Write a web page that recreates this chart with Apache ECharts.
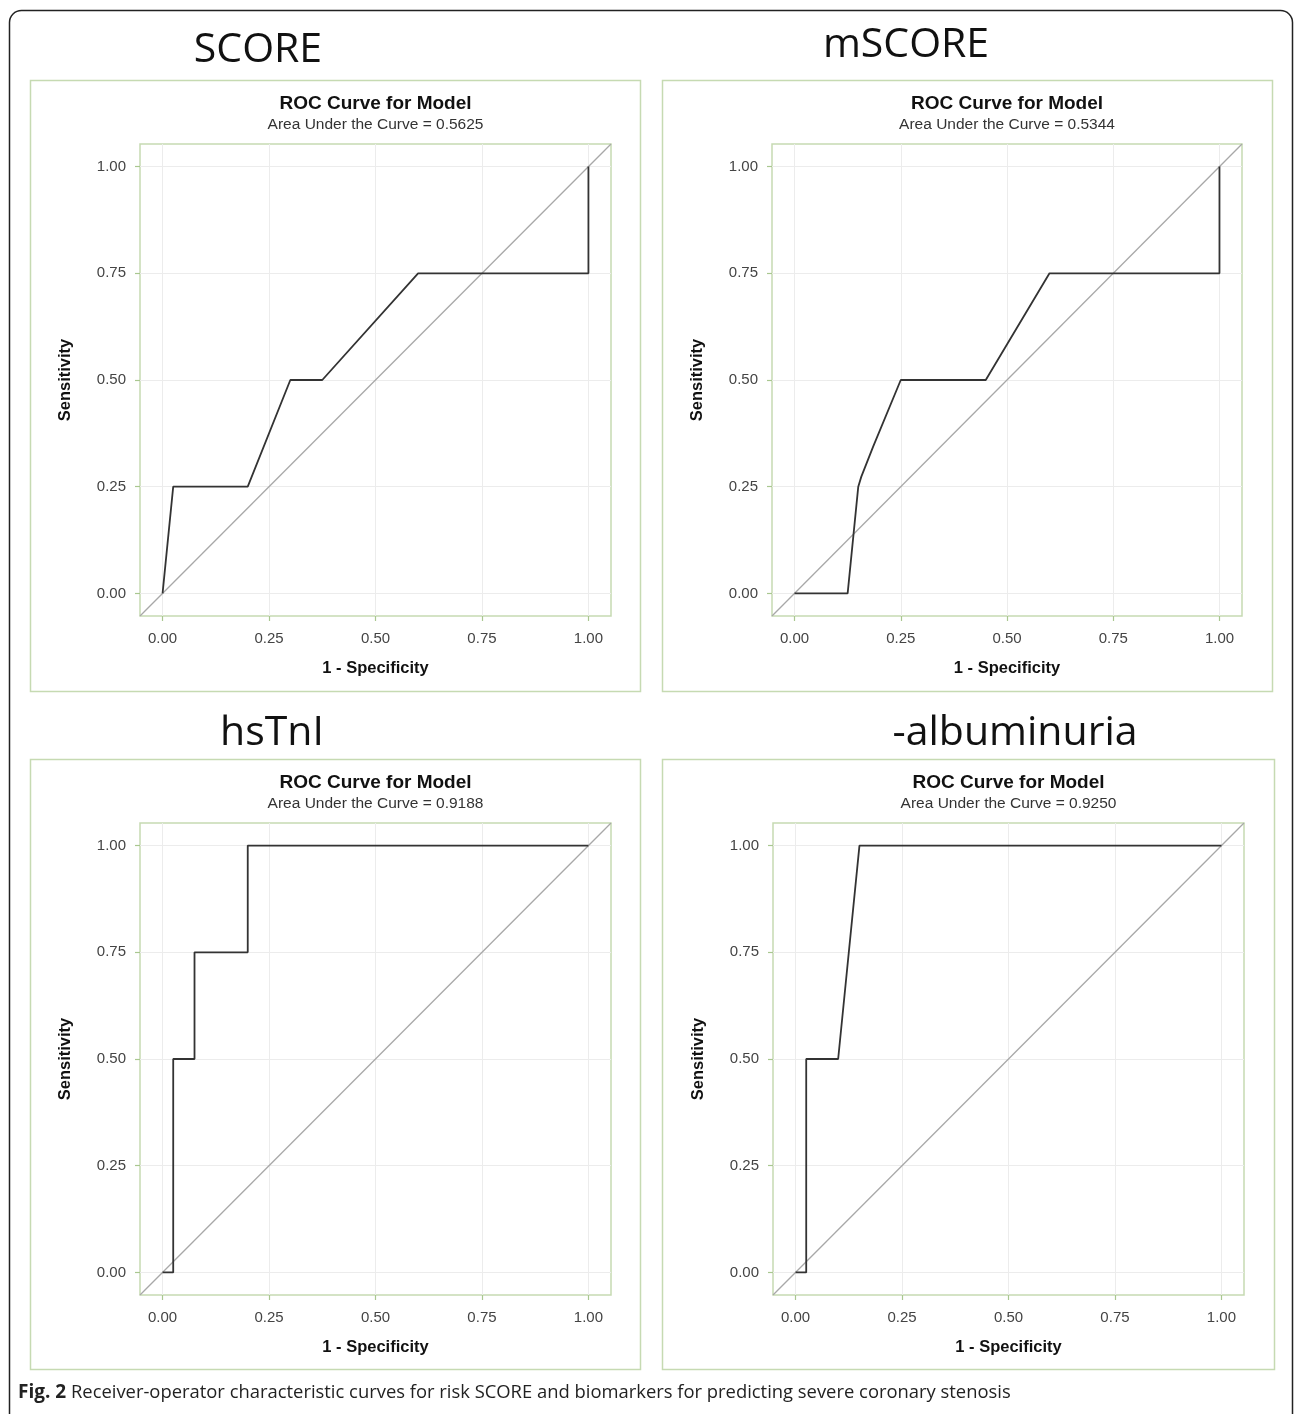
<!DOCTYPE html>
<html><head><meta charset="utf-8">
<script src="https://cdn.jsdelivr.net/npm/echarts@6/dist/echarts.min.js"></script>
<style>html,body{margin:0;padding:0;background:#fff}#c{width:1295px;height:1414px}</style>
</head><body><div id="c"></div>
<script>
// ---- data ----
const panelNames = ['SCORE', 'mSCORE', 'hsTnI', '-albuminuria'];
const aucValues = ['0.5625', '0.5344', '0.9188', '0.9250'];
const tickValues = [0, 0.25, 0.5, 0.75, 1];
const scoreFpr = [0, 0.025, 0.2, 0.3, 0.375, 0.6, 1, 1];
const scoreTpr = [0, 0.25, 0.25, 0.5, 0.5, 0.75, 0.75, 1];
const mscoreFpr = [0, 0.125, 0.15, 0.157, 0.185, 0.25, 0.45, 0.6, 1, 1];
const mscoreTpr = [0, 0, 0.25, 0.273, 0.344, 0.5, 0.5, 0.75, 0.75, 1];
const hstniFpr = [0, 0.025, 0.025, 0.075, 0.075, 0.2, 0.2, 1];
const hstniTpr = [0, 0, 0.5, 0.5, 0.75, 0.75, 1, 1];
const albFpr = [0, 0.025, 0.025, 0.1, 0.15, 1];
const albTpr = [0, 0, 0.5, 0.5, 1, 1];
const diagonal = [-0.053, 1.053];
const axisRange = [-0.053, 1.053];
const captionBold = 'Fig. 2';
const captionText = ' Receiver-operator characteristic curves for risk SCORE and biomarkers for predicting severe coronary stenosis';

const curves = [[scoreFpr, scoreTpr], [mscoreFpr, mscoreTpr], [hstniFpr, hstniTpr], [albFpr, albTpr]];

// ---- layout ----
const panels = [
  {box: [30, 80, 610, 611], plot: [140, 144, 471, 472], big: [258, 50]},
  {box: [662, 80, 610, 611], plot: [772, 144, 470, 472], big: [906, 45]},
  {box: [30, 759, 610, 610], plot: [140, 823, 471, 472], big: [272, 733]},
  {box: [662, 759, 612, 610], plot: [773, 823, 471, 472], big: [1015, 733]}
];
const green = '#c6dab2';
const sans = 'Liberation Sans, Arial, sans-serif';

const grid = [], xAxis = [], yAxis = [], series = [], graphic = [];

graphic.push({type: 'rect', shape: {x: 9.5, y: 10.5, width: 1283, height: 1420, r: 12},
  style: {fill: 'none', stroke: '#222', lineWidth: 1.5}, silent: true});

panels.forEach((p, i) => {
  const [l, t, w, h] = p.plot;
  graphic.push({type: 'rect', shape: {x: p.box[0] + 0.5, y: p.box[1] + 0.5, width: p.box[2], height: p.box[3]},
    style: {fill: 'none', stroke: green, lineWidth: 1.5}, silent: true});
  graphic.push({type: 'text', x: p.big[0], y: p.big[1],
    style: {text: panelNames[i], font: '41px "Open Sans", sans-serif', fill: '#111', align: 'center', verticalAlign: 'middle'}});
  const cx = l + w / 2;
  graphic.push({type: 'text', x: cx, y: t - 40,
    style: {text: 'ROC Curve for Model', font: 'bold 19px ' + sans, fill: '#111', align: 'center', verticalAlign: 'middle'}});
  graphic.push({type: 'text', x: cx, y: t - 19,
    style: {text: 'Area Under the Curve = ' + aucValues[i], font: '15.5px ' + sans, fill: '#333', align: 'center', verticalAlign: 'middle'}});

  grid.push({left: l, top: t, width: w, height: h, show: true, borderColor: green, borderWidth: 1.5, backgroundColor: 'transparent'});
  const axCommon = {
    type: 'value', gridIndex: i, min: axisRange[0], max: axisRange[1],
    axisLine: {show: false, onZero: false},
    axisTick: {show: true, inside: false, customValues: tickValues, length: 5, lineStyle: {color: '#a9c790', width: 1.2}},
    axisLabel: {customValues: tickValues, formatter: v => v.toFixed(2), color: '#444', fontSize: 15, fontFamily: sans},
    splitLine: {show: true, lineStyle: {color: '#ececec', width: 1}},
    nameLocation: 'middle',
    nameTextStyle: {fontWeight: 'bold', fontSize: 16.5, color: '#111', fontFamily: sans}
  };
  xAxis.push(Object.assign({}, axCommon, {name: '1 - Specificity', nameGap: 44,
    axisLabel: Object.assign({}, axCommon.axisLabel, {margin: 15})}));
  yAxis.push(Object.assign({}, axCommon, {name: 'Sensitivity', nameGap: 66, nameRotate: 90,
    axisLabel: Object.assign({}, axCommon.axisLabel, {margin: 14})}));
  series.push({type: 'line', xAxisIndex: i, yAxisIndex: i, showSymbol: false, silent: true,
    data: diagonal.map(v => [v, v]), lineStyle: {color: '#a8a8a8', width: 1.3}, z: 2});
  const [fx, fy] = curves[i];
  series.push({type: 'line', xAxisIndex: i, yAxisIndex: i, showSymbol: false, silent: true,
    data: fx.map((x, k) => [x, fy[k]]), lineStyle: {color: '#333', width: 1.8}, z: 3});
});

graphic.push({type: 'text', x: 18, y: 1393,
  style: {rich: {b: {font: 'bold 19px "Open Sans", sans-serif', fill: '#222'}, n: {font: '18.4px "Open Sans", sans-serif', fill: '#222'}},
    text: '{b|' + captionBold + '}{n|' + captionText + '}', verticalAlign: 'middle'}});

const chart = echarts.init(document.getElementById('c'), null, {renderer: 'canvas'});
chart.setOption({animation: false, backgroundColor: '#fff', grid, xAxis, yAxis, series, graphic});
</script></body></html>
